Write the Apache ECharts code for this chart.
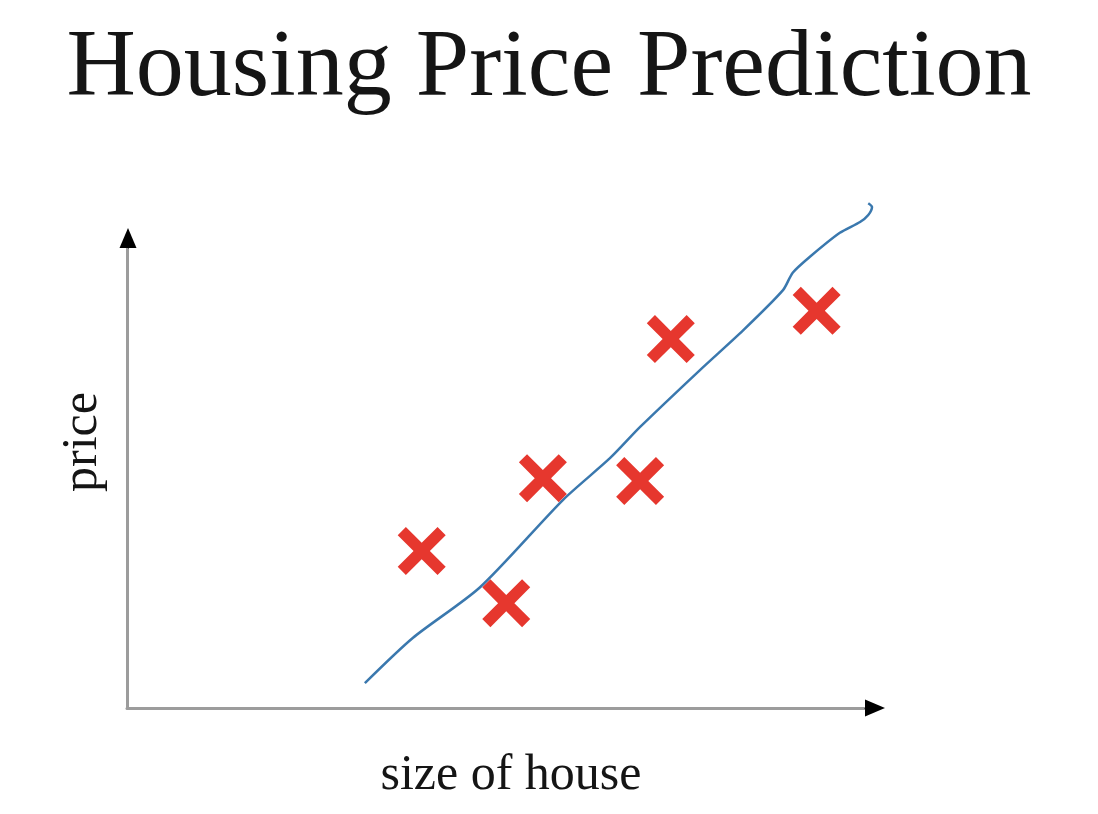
<!DOCTYPE html>
<html>
<head>
<meta charset="utf-8">
<script src="https://cdn.jsdelivr.net/npm/echarts@6/dist/echarts.min.js"></script>
<style>
html,body{margin:0;padding:0;background:#fff;}
#chart{width:1098px;height:814px;}
</style>
</head>
<body>
<div id="chart"></div>
<script>
// ---- data (abstract units, 0..100 on each axis) ----
const titleText = 'Housing Price Prediction';
const xAxisName = 'size of house';
const yAxisName = 'price';

const houseSize = [39.4, 50.7, 55.6, 68.6, 72.7, 92.2];
const housePrice = [33.4, 22.3, 48.9, 48.3, 78.5, 84.5];

const fitLineX = [31.8, 38.2, 47.2, 58.3, 64.6, 68.6, 76.6, 82.4, 87.7, 89.0, 91.3, 95.3, 98.0, 99.1, 99.6, 99.1];
const fitLineY = [5.3, 14.9, 25.7, 44.3, 53.2, 59.8, 71.9, 80.4, 88.9, 92.6, 96.0, 101.1, 103.4, 104.9, 106.6, 107.4];

const xMin = 0, xMax = 100, yMin = 0, yMax = 100;

// ---- build ----
const pointData = houseSize.map((x, i) => [x, housePrice[i]]);
const lineData = fitLineX.map((x, i) => [x, fitLineY[i]]);

const serif = 'Liberation Serif';
const textColor = '#151515';
const axisGray = '#9c9c9c';
const crossPath = 'path://M0,17 L17,0 L50,33 L83,0 L100,17 L67,50 L100,83 L83,100 L50,67 L17,100 L0,83 L33,50 Z';

const chart = echarts.init(document.getElementById('chart'), null, {renderer: 'canvas'});

const hidden = {show: false};

chart.setOption({
  backgroundColor: '#ffffff',
  animation: false,
  title: {
    text: titleText,
    left: 'center',
    top: 22,
    padding: 0,
    textStyle: {fontFamily: serif, fontSize: 96, fontWeight: 'normal', color: textColor}
  },
  grid: [
    {left: 127, right: 223, top: 238, bottom: 106, containLabel: false},
    {left: 865, right: 223, bottom: 106, height: 10},
    {left: 128, top: 238, height: 10, width: 10}
  ],
  xAxis: [
    {
      type: 'value', gridIndex: 0, min: xMin, max: xMax, position: 'bottom',
      axisLine: {show: true, onZero: false, lineStyle: {color: axisGray, width: 3}},
      axisTick: hidden, axisLabel: hidden, splitLine: hidden,
      name: xAxisName, nameLocation: 'middle', nameGap: 43,
      nameTextStyle: {fontFamily: serif, fontSize: 50, color: textColor, padding: [0, 0, 0, 20]}
    },
    {
      type: 'value', gridIndex: 1, min: 0, max: 1, position: 'bottom', z: 5,
      axisLine: {show: true, onZero: false, symbol: ['none', 'triangle'], symbolSize: [17, 20],
        lineStyle: {color: '#000', width: 1}},
      axisTick: hidden, axisLabel: hidden, splitLine: hidden
    },
    {
      type: 'value', gridIndex: 2, min: 0, max: 1, show: false
    }
  ],
  yAxis: [
    {
      type: 'value', gridIndex: 0, min: yMin, max: yMax, position: 'left',
      axisLine: {show: true, onZero: false, lineStyle: {color: axisGray, width: 3}},
      axisTick: hidden, axisLabel: hidden, splitLine: hidden,
      name: yAxisName, nameLocation: 'middle', nameGap: 19, nameRotate: 90,
      nameTextStyle: {fontFamily: serif, fontSize: 50, color: textColor, padding: [0, 0, 0, 62]}
    },
    {
      type: 'value', gridIndex: 1, min: 0, max: 1, show: false
    },
    {
      type: 'value', gridIndex: 2, min: 0, max: 1, position: 'left', z: 5,
      axisLine: {show: true, onZero: false, symbol: ['none', 'triangle'], symbolSize: [17, 20],
        lineStyle: {color: '#000', width: 1}},
      axisTick: hidden, axisLabel: hidden, splitLine: hidden
    }
  ],
  series: [
    {
      type: 'line', xAxisIndex: 0, yAxisIndex: 0,
      data: lineData, smooth: 0.25, showSymbol: false, clip: false,
      lineStyle: {color: '#3a78ae', width: 2.5}, z: 2
    },
    {
      type: 'scatter', xAxisIndex: 0, yAxisIndex: 0,
      data: pointData, symbol: crossPath, symbolSize: 48,
      itemStyle: {color: '#e6372e', opacity: 1}, z: 3
    }
  ]
});
</script>
</body>
</html>
